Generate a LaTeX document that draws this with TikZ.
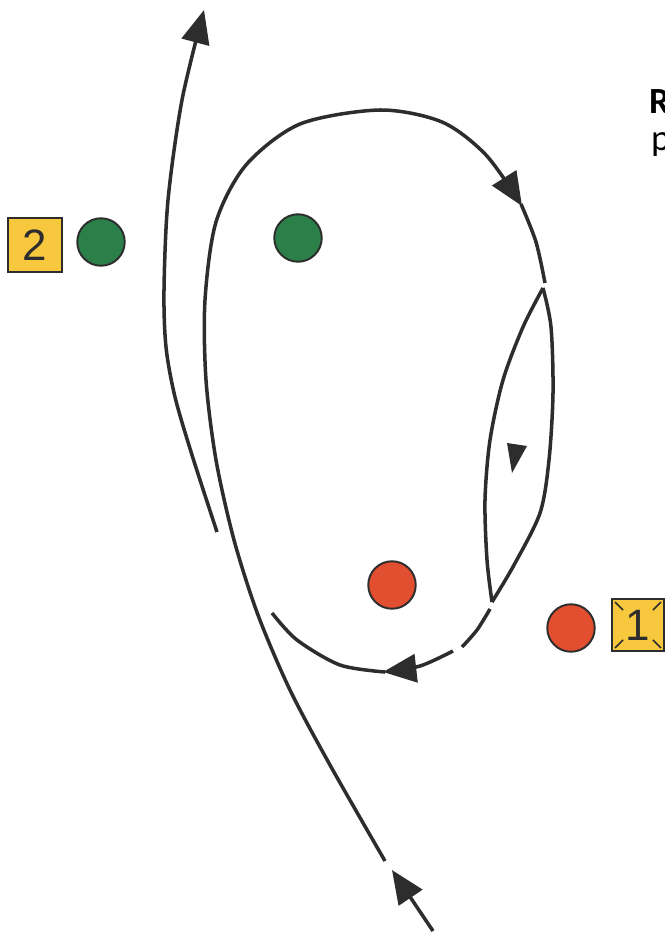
\documentclass[tikz,border=0pt]{standalone}
\usepackage{fontspec}
\setmainfont{Liberation Sans}
\newfontfamily\calibri{Carlito}
\usepackage{tikz}
\usetikzlibrary{arrows.meta}
\definecolor{ink}{RGB}{45,45,45}
\definecolor{boxyellow}{RGB}{247,200,62}
\definecolor{ballgreen}{RGB}{42,128,72}
\definecolor{ballred}{RGB}{226,78,48}
\tikzset{
  run/.style={ink,line width=2pt},
  arrowrun/.style={-{Triangle[length=19pt,width=16pt]}},
  ball/.style={circle,draw=ink,line width=1.1pt,minimum size=0.95cm,inner sep=0pt},
  numbox/.style={draw=ink,fill=boxyellow,line width=1.1pt,minimum size=1.08cm,inner sep=0pt,text=ink,font=\fontsize{25}{25}\selectfont}
}

\begin{document}
\begin{tikzpicture}[x=0.02cm,y=-0.02cm]
        \useasboundingbox (0,0) rectangle (665,933);
        \clip (0,0) rectangle (665,933);
        \node[numbox] (box2) at (35,245) {2};
        \node[ball,fill=ballgreen] (green2) at (101,242) {};
        \node[ball,fill=ballgreen] (green1) at (298,238) {};
        \node[ball,fill=ballred] (red1) at (392,585) {};
        \node[ball,fill=ballred] (red2) at (571,628) {};
        \node[numbox,minimum size=1.04cm] (box1) at (638,625) {1};
        \foreach \c/\dx/\dy in {north west/1/1, north east/-1/1, south west/1/-1, south east/-1/-1}
          \draw[ink,line width=0.9pt] ([shift={(4*\dx,4*\dy)}]box1.\c) -- ([shift={(12*\dx,12*\dy)}]box1.\c);
        \node[anchor=base west,font=\calibri\bfseries\fontsize{21}{26}\selectfont] (title) at (643,113) {R};
        \node[anchor=base west,font=\calibri\fontsize{21}{26}\selectfont] (subtitle) at (645,150) {p};
        \draw[run,arrowrun] (433,931) -- (392,870);
        \draw[run,arrowrun] plot[smooth] coordinates {(385,861) (330,765) (290,690) (258,615) (234,540) (216,460) (206,380) (205,300) (216,222) (246,165) (300,124) (380,110) (442,122) (486,155) (522,206)};
        \draw[run] plot[smooth] coordinates {(521,204) (536,242) (545,283)};
        \draw[run] plot[smooth] coordinates {(543,288) (551,327) (553,393) (549,460) (540,513) (514,565) (492,602)};
        \draw[run] plot[smooth] coordinates {(543,288) (523,327) (503,380) (490,440) (485,500) (487,560) (492,602)};
        \fill[ink] (507,443) -- (527,446) -- (512,473) -- cycle;
        \draw[run] plot[smooth] coordinates {(490,609) (477,630) (462,647)};
        \draw[run,arrowrun] plot[smooth] coordinates {(453,651) (420,666) (383,672)};
        \draw[run] plot[smooth] coordinates {(385,672) (340,665) (297,640) (272,613)};
        \draw[run,arrowrun] plot[smooth] coordinates {(217,532) (192,455) (175,397) (166,347) (164,290) (168,200) (182,100) (204,10)};
      \end{tikzpicture}
\end{document}
